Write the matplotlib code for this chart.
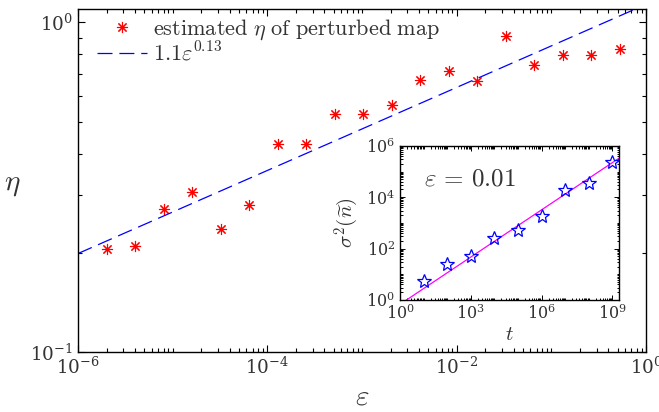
import matplotlib
matplotlib.use('Agg')
import matplotlib.pyplot as plt
from matplotlib.ticker import LogLocator, NullFormatter, FixedLocator

plt.rcParams['mathtext.fontset'] = 'cm'
plt.rcParams['font.family'] = 'serif'
plt.rcParams['font.serif'] = ['DejaVu Serif']
plt.rcParams['axes.unicode_minus'] = False

# main panel: estimated eta vs epsilon
eps = [2e-6, 4e-6, 8e-6, 1.6e-5, 3.2e-5, 6.4e-5, 1.28e-4, 2.56e-4, 5.12e-4,
       1.024e-3, 2.048e-3, 4.096e-3, 8.192e-3, 1.6384e-2, 3.2768e-2,
       6.5536e-2, 0.131, 0.262, 0.524]
eta = [0.205, 0.210, 0.272, 0.305, 0.236, 0.279, 0.428, 0.428, 0.528,
       0.527, 0.562, 0.671, 0.713, 0.663, 0.912, 0.741, 0.796, 0.796, 0.828]
# fitted power law, end points
fit_eps = [1e-6, 1.0]
fit_eta = [0.199, 1.135]

# inset: variance vs time at eps = 0.01
t = [1e1, 1e2, 1e3, 1e4, 1e5, 1e6, 1e7, 1e8, 1e9]
sig2 = [5.5, 25, 53, 265, 530, 1850, 19000, 36500, 2.3e5]
fit_t = [1.0, 2e9]
fit_sig2 = [0.676, 3.4e5]

txt = '#333333'

fig = plt.figure(figsize=(6.59, 4.12), dpi=100)
ax = fig.add_axes([0.1184, 0.1456, 0.862, 0.833])

ax.plot(eps, eta, ls='none', marker=(8, 2, 0), ms=8, mew=0.8, color='red',
        label=r'$\mathrm{estimated}\ \eta\ \mathrm{of\ perturbed\ map}$')
ax.plot(fit_eps, fit_eta, color='blue', lw=0.9, dashes=(12, 5.5),
        label=r'$1.1\varepsilon^{0.13}$')

ax.set_xscale('log')
ax.set_yscale('log')
ax.set_xlim(1e-6, 1)
ax.set_ylim(0.1, 1.1)
ax.xaxis.set_major_locator(FixedLocator([1e-6, 1e-4, 1e-2, 1]))
ax.xaxis.set_minor_locator(LogLocator(base=10, subs=range(1, 10), numticks=20))
ax.yaxis.set_major_locator(FixedLocator([0.1, 1]))
ax.yaxis.set_minor_locator(LogLocator(base=10, subs=range(2, 10), numticks=20))
ax.xaxis.set_minor_formatter(NullFormatter())
ax.yaxis.set_minor_formatter(NullFormatter())
ax.tick_params(which='both', direction='in', top=True, right=True,
               labelsize=13.2, labelcolor=txt, width=0.8)
ax.tick_params(which='major', length=5)
ax.tick_params(which='minor', length=3)
for s in ax.spines.values():
    s.set_linewidth(1.0)

ax.set_xlabel(r'$\varepsilon$', fontsize=21, color=txt, va='center')
ax.xaxis.set_label_coords(0.5, -0.13)
ax.set_ylabel(r'$\eta$', fontsize=21, color=txt, rotation=0,
              va='center', ha='center')
ax.yaxis.set_label_coords(-0.116, 0.49)

ax.legend(loc='upper left', bbox_to_anchor=(0.018, 1.0), frameon=False,
          fontsize=16, handlelength=2.25, handletextpad=0.25,
          labelspacing=0.0, borderaxespad=0.0, labelcolor=txt)

# inset
ins = fig.add_axes([0.607, 0.272, 0.333, 0.374])
ins.plot(fit_t, fit_sig2, color='magenta', lw=0.9)
ins.plot(t, sig2, ls='none', marker='*', ms=10, mfc='none', mec='blue', mew=0.9)
ins.set_xscale('log')
ins.set_yscale('log')
ins.set_xlim(1, 2e9)
ins.set_ylim(1, 1e6)
ins.xaxis.set_major_locator(FixedLocator([1, 1e3, 1e6, 1e9]))
ins.xaxis.set_minor_locator(LogLocator(base=10, subs=range(1, 10), numticks=30))
ins.yaxis.set_major_locator(FixedLocator([1, 1e2, 1e4, 1e6]))
ins.yaxis.set_minor_locator(LogLocator(base=10, subs=range(1, 10), numticks=30))
ins.xaxis.set_minor_formatter(NullFormatter())
ins.yaxis.set_minor_formatter(NullFormatter())
ins.tick_params(which='both', direction='in', top=True, right=True,
                labelsize=11.5, labelcolor=txt, width=0.7)
ins.tick_params(which='major', length=3.5)
ins.tick_params(which='minor', length=1.8)
for s in ins.spines.values():
    s.set_linewidth(1.0)
ins.set_xlabel(r'$t$', fontsize=15, color=txt, labelpad=1)
ins.set_ylabel(r'$\sigma^2(\widetilde{n})$', fontsize=15, color=txt, labelpad=4)
ins.text(0.11, 0.74, r'$\varepsilon\,=\,0.01$', transform=ins.transAxes,
         fontsize=18, color=txt)

fig.savefig('out.png', dpi=100)
